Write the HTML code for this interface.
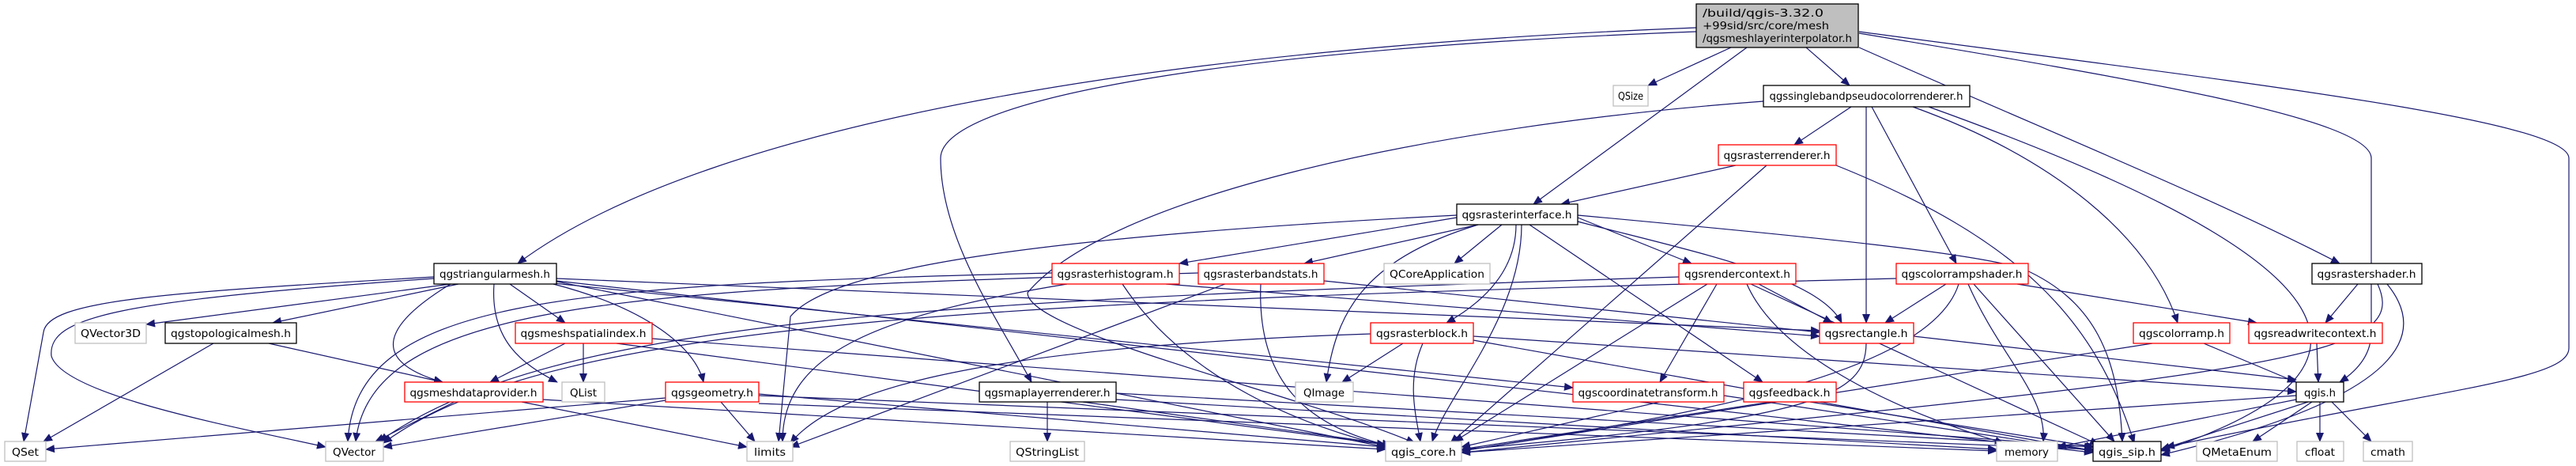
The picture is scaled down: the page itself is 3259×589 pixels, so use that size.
<!DOCTYPE html>
<html><head><meta charset="utf-8"><style>
html,body{margin:0;padding:0;background:#fff;}
svg{display:block;}
text{font-family:"DejaVu Sans","Liberation Sans",sans-serif;font-size:13px;fill:#000;}
.e{fill:none;stroke:#191970;stroke-width:1.2;marker-end:url(#a);}
.r{fill:#fff;stroke:#ff0000;stroke-width:1.3;}
.b{fill:#fff;stroke:#000;stroke-width:1.3;}
.g{fill:#fff;stroke:#bfbfbf;stroke-width:1.3;}
</style></head><body>
<svg width="3259" height="589" viewBox="0 0 3259 589" xmlns="http://www.w3.org/2000/svg">
<defs><marker id="a" markerUnits="userSpaceOnUse" markerWidth="12" markerHeight="10" refX="11" refY="5" orient="auto"><polygon points="0,0 12,5 0,10" fill="#191970"/></marker></defs>
<g>
<path class="e" d="M2146,35 C1500,60 900,150 655,333"/>
<path class="e" d="M2146,40 C1600,60 1190,120 1190,200 C1190,300 1260,400 1305,483"/>
<path class="e" d="M2190,60 L2085,108"/>
<path class="e" d="M2210,60 L1940,258"/>
<path class="e" d="M2285,60 L2340,108"/>
<path class="e" d="M2352,60 C2600,170 2800,250 2960,333"/>
<path class="e" d="M2352,42 C2700,100 3000,150 3000,200 L3000,420 C3000,450 2980,470 2960,483"/>
<path class="e" d="M2352,40 C2800,100 3250,150 3250,200 L3250,440 C3250,480 3100,490 2740,565"/>
<path class="e" d="M2342,135 L2270,183"/>
<path class="e" d="M2361,135 L2361,408"/>
<path class="e" d="M2368,135 L2475,333"/>
<path class="e" d="M2420,135 C2600,200 2720,300 2755,408"/>
<path class="e" d="M2440,135 C2900,300 3100,450 2734,570"/>
<path class="e" d="M2231,128 C1800,160 1400,250 1300,370 C1300,420 1650,500 1790,560"/>
<path class="e" d="M2196,209 L1975,258"/>
<path class="e" d="M2235,209 L1835,560"/>
<path class="e" d="M2323,209 C2550,300 2650,400 2700,560"/>
<path class="e" d="M1843,275 L1492,333"/>
<path class="e" d="M1870,284 L1650,333"/>
<path class="e" d="M1900,284 L1840,333"/>
<path class="e" d="M1918,284 C1918,340 1880,380 1830,408"/>
<path class="e" d="M1870,284 C1720,330 1690,400 1678,483"/>
<path class="e" d="M1925,284 C1925,400 1830,500 1812,558"/>
<path class="e" d="M1996,280 C2150,320 2300,350 2330,408"/>
<path class="e" d="M1996,275 L2140,333"/>
<path class="e" d="M1935,284 L2230,483"/>
<path class="e" d="M1996,272 C2300,300 2500,320 2560,340 C2650,380 2680,450 2685,558"/>
<path class="e" d="M1843,272 C1300,300 1050,340 1000,400 L985,558"/>
<path class="e" d="M1475,359 L2302,425"/>
<path class="e" d="M1420,359 C1500,480 1650,540 1760,565"/>
<path class="e" d="M1331,345 C700,360 450,380 440,558"/>
<path class="e" d="M1350,359 C1100,400 990,450 990,558"/>
<path class="e" d="M1595,359 C1590,480 1650,540 1765,565"/>
<path class="e" d="M1550,359 L1000,565"/>
<path class="e" d="M1516,345 C800,365 470,380 450,558"/>
<path class="e" d="M1675,355 L2302,420"/>
<path class="e" d="M1800,434 C1780,480 1790,520 1797,558"/>
<path class="e" d="M1775,434 L1698,483"/>
<path class="e" d="M1734,422 C1200,440 1050,500 1000,560"/>
<path class="e" d="M1864,425 L2905,495"/>
<path class="e" d="M1864,430 L2650,570"/>
<path class="e" d="M2225,359 L2318,408"/>
<path class="e" d="M2172,359 L2100,483"/>
<path class="e" d="M2160,359 L1840,558"/>
<path class="e" d="M2210,359 C2250,450 2400,520 2535,560"/>
<path class="e" d="M2215,359 L2655,562"/>
<path class="e" d="M2124,350 C1200,380 700,400 480,558"/>
<path class="e" d="M2462,359 L2385,408"/>
<path class="e" d="M2478,359 C2440,480 2100,530 1849,570"/>
<path class="e" d="M2490,359 C2530,450 2590,500 2585,558"/>
<path class="e" d="M2497,359 L2675,558"/>
<path class="e" d="M2552,359 L2855,408"/>
<path class="e" d="M2399,352 C1300,380 700,400 485,560"/>
<path class="e" d="M2983,359 L2942,408"/>
<path class="e" d="M3008,359 C3050,450 2900,470 1849,572"/>
<path class="e" d="M3020,359 C3070,420 3050,500 2734,575"/>
<path class="e" d="M2361,434 C2360,500 2300,530 1849,568"/>
<path class="e" d="M2421,425 L2905,480"/>
<path class="e" d="M2788,434 L2905,483"/>
<path class="e" d="M2723,434 L1849,570"/>
<path class="e" d="M2931,434 L2933,483"/>
<path class="e" d="M2100,508 L1849,565"/>
<path class="e" d="M2181,500 L2648,570"/>
<path class="e" d="M2240,508 L1849,568"/>
<path class="e" d="M2290,508 L2650,565"/>
<path class="e" d="M2905,500 L1849,572"/>
<path class="e" d="M2920,508 L2734,568"/>
<path class="e" d="M2905,505 L2603,565"/>
<path class="e" d="M2925,508 L2850,558"/>
<path class="e" d="M2935,508 L2935,558"/>
<path class="e" d="M2950,508 L3000,558"/>
<path class="e" d="M1325,508 L1325,558"/>
<path class="e" d="M1370,508 L1760,562"/>
<path class="e" d="M1412,497 L2650,565"/>
<path class="e" d="M1412,505 L2526,568"/>
<path class="e" d="M570,359 L185,410"/>
<path class="e" d="M580,359 L345,408"/>
<path class="e" d="M645,359 L715,408"/>
<path class="e" d="M570,359 C470,420 480,460 560,483"/>
<path class="e" d="M625,359 C620,430 660,460 705,483"/>
<path class="e" d="M700,359 C820,390 880,440 890,483"/>
<path class="e" d="M549,350 C200,370 60,380 55,420 L30,558"/>
<path class="e" d="M549,352 C150,380 60,400 65,450 C80,500 300,540 412,565"/>
<path class="e" d="M700,355 L1753,565"/>
<path class="e" d="M704,352 L2302,418"/>
<path class="e" d="M700,358 L1990,490"/>
<path class="e" d="M704,355 L2648,572"/>
<path class="e" d="M270,434 L55,558"/>
<path class="e" d="M340,434 L560,483"/>
<path class="e" d="M715,434 L620,483"/>
<path class="e" d="M738,434 L738,483"/>
<path class="e" d="M780,434 L1753,562"/>
<path class="e" d="M825,428 L2648,565"/>
<path class="e" d="M575,508 L475,558"/>
<path class="e" d="M660,508 L945,565"/>
<path class="e" d="M687,505 L1753,568"/>
<path class="e" d="M842,503 L58,568"/>
<path class="e" d="M842,506 L485,565"/>
<path class="e" d="M912,508 L955,558"/>
<path class="e" d="M960,498 L1753,565"/>
<path class="e" d="M960,500 L2648,568"/>
<path class="e" d="M960,510 L2526,570"/>
</g>
<g>
<rect x="2146" y="5" width="205" height="55" fill="#bfbfbf" stroke="#000" stroke-width="1.3"/>
<text x="2154" y="21" textLength="153" lengthAdjust="spacingAndGlyphs">/build/qgis-3.32.0</text>
<text x="2154" y="37" textLength="160" lengthAdjust="spacingAndGlyphs">+99sid/src/core/mesh</text>
<text x="2154" y="53" textLength="189" lengthAdjust="spacingAndGlyphs">/qgsmeshlayerinterpolator.h</text>
</g>
<g text-anchor="middle">
<rect class="g" x="2041" y="108" width="44" height="26"/><text x="2063" y="126" textLength="32" lengthAdjust="spacingAndGlyphs">QSize</text>
<rect class="b" x="2231" y="108" width="261" height="27"/><text x="2361" y="126" textLength="245" lengthAdjust="spacingAndGlyphs">qgssinglebandpseudocolorrenderer.h</text>
<rect class="r" x="2174" y="183" width="149" height="26"/><text x="2248" y="201" textLength="135" lengthAdjust="spacingAndGlyphs">qgsrasterrenderer.h</text>
<rect class="b" x="1843" y="258" width="153" height="26"/><text x="1919" y="276" textLength="139" lengthAdjust="spacingAndGlyphs">qgsrasterinterface.h</text>
<rect class="b" x="549" y="333" width="155" height="26"/><text x="626" y="351" textLength="140" lengthAdjust="spacingAndGlyphs">qgstriangularmesh.h</text>
<rect class="r" x="1331" y="333" width="161" height="26"/><text x="1411" y="351" textLength="147" lengthAdjust="spacingAndGlyphs">qgsrasterhistogram.h</text>
<rect class="r" x="1516" y="333" width="159" height="26"/><text x="1595" y="351" textLength="145" lengthAdjust="spacingAndGlyphs">qgsrasterbandstats.h</text>
<rect class="g" x="1751" y="333" width="134" height="26"/><text x="1818" y="351" textLength="120" lengthAdjust="spacingAndGlyphs">QCoreApplication</text>
<rect class="r" x="2124" y="333" width="148" height="26"/><text x="2198" y="351" textLength="134" lengthAdjust="spacingAndGlyphs">qgsrendercontext.h</text>
<rect class="r" x="2399" y="333" width="167" height="26"/><text x="2482" y="351" textLength="153" lengthAdjust="spacingAndGlyphs">qgscolorrampshader.h</text>
<rect class="b" x="2925" y="333" width="139" height="26"/><text x="2994" y="351" textLength="125" lengthAdjust="spacingAndGlyphs">qgsrastershader.h</text>
<rect class="g" x="95" y="408" width="90" height="26"/><text x="140" y="426" textLength="76" lengthAdjust="spacingAndGlyphs">QVector3D</text>
<rect class="b" x="209" y="408" width="166" height="26"/><text x="292" y="426" textLength="152" lengthAdjust="spacingAndGlyphs">qgstopologicalmesh.h</text>
<rect class="r" x="652" y="408" width="173" height="26"/><text x="738" y="426" textLength="159" lengthAdjust="spacingAndGlyphs">qgsmeshspatialindex.h</text>
<rect class="r" x="1734" y="408" width="130" height="26"/><text x="1799" y="426" textLength="116" lengthAdjust="spacingAndGlyphs">qgsrasterblock.h</text>
<rect class="r" x="2302" y="408" width="119" height="26"/><text x="2361" y="426" textLength="105" lengthAdjust="spacingAndGlyphs">qgsrectangle.h</text>
<rect class="r" x="2699" y="408" width="122" height="26"/><text x="2760" y="426" textLength="108" lengthAdjust="spacingAndGlyphs">qgscolorramp.h</text>
<rect class="r" x="2845" y="408" width="169" height="26"/><text x="2929" y="426" textLength="155" lengthAdjust="spacingAndGlyphs">qgsreadwritecontext.h</text>
<rect class="r" x="512" y="483" width="175" height="25"/><text x="599" y="501" textLength="161" lengthAdjust="spacingAndGlyphs">qgsmeshdataprovider.h</text>
<rect class="g" x="711" y="483" width="54" height="25"/><text x="738" y="501" textLength="34" lengthAdjust="spacingAndGlyphs">QList</text>
<rect class="r" x="842" y="483" width="118" height="25"/><text x="901" y="501" textLength="104" lengthAdjust="spacingAndGlyphs">qgsgeometry.h</text>
<rect class="b" x="1239" y="483" width="173" height="25"/><text x="1325" y="501" textLength="159" lengthAdjust="spacingAndGlyphs">qgsmaplayerrenderer.h</text>
<rect class="g" x="1639" y="483" width="73" height="25"/><text x="1675" y="501" textLength="52" lengthAdjust="spacingAndGlyphs">QImage</text>
<rect class="r" x="1990" y="483" width="191" height="25"/><text x="2085" y="501" textLength="177" lengthAdjust="spacingAndGlyphs">qgscoordinatetransform.h</text>
<rect class="r" x="2206" y="483" width="117" height="25"/><text x="2264" y="501" textLength="103" lengthAdjust="spacingAndGlyphs">qgsfeedback.h</text>
<rect class="b" x="2905" y="483" width="60" height="25"/><text x="2935" y="501" textLength="40" lengthAdjust="spacingAndGlyphs">qgis.h</text>
<rect class="g" x="6" y="558" width="52" height="25"/><text x="32" y="576" textLength="34" lengthAdjust="spacingAndGlyphs">QSet</text>
<rect class="g" x="412" y="558" width="73" height="25"/><text x="448" y="576" textLength="54" lengthAdjust="spacingAndGlyphs">QVector</text>
<rect class="g" x="945" y="558" width="58" height="25"/><text x="974" y="576" textLength="40" lengthAdjust="spacingAndGlyphs">limits</text>
<rect class="g" x="1278" y="558" width="94" height="25"/><text x="1325" y="576" textLength="80" lengthAdjust="spacingAndGlyphs">QStringList</text>
<rect class="g" x="1753" y="558" width="96" height="25"/><text x="1801" y="576" textLength="82" lengthAdjust="spacingAndGlyphs">qgis_core.h</text>
<rect class="g" x="2526" y="558" width="77" height="25"/><text x="2564" y="576" textLength="56" lengthAdjust="spacingAndGlyphs">memory</text>
<rect class="b" x="2648" y="558" width="86" height="25"/><text x="2691" y="576" textLength="72" lengthAdjust="spacingAndGlyphs">qgis_sip.h</text>
<rect class="g" x="2779" y="558" width="102" height="25"/><text x="2830" y="576" textLength="88" lengthAdjust="spacingAndGlyphs">QMetaEnum</text>
<rect class="g" x="2906" y="558" width="59" height="25"/><text x="2935" y="576" textLength="38" lengthAdjust="spacingAndGlyphs">cfloat</text>
<rect class="g" x="2990" y="558" width="62" height="25"/><text x="3021" y="576" textLength="44" lengthAdjust="spacingAndGlyphs">cmath</text>
</g>
</svg>
</body></html>
